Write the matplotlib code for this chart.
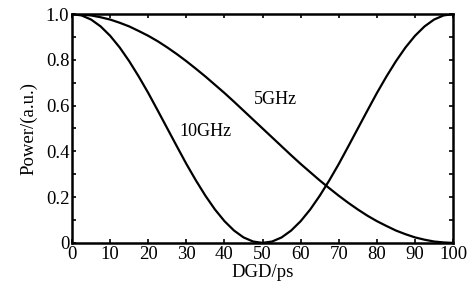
import numpy as np
import matplotlib
matplotlib.use('Agg')
import matplotlib.pyplot as plt
from matplotlib.ticker import MultipleLocator, FuncFormatter

plt.rcParams['font.family'] = ['Liberation Serif', 'DejaVu Serif']

# values, every 2.5 ps
dgd = [0, 2.5, 5, 7.5, 10, 12.5, 15, 17.5, 20, 22.5, 25, 27.5, 30, 32.5, 35, 37.5, 40, 42.5, 45, 47.5,
       50, 52.5, 55, 57.5, 60, 62.5, 65, 67.5, 70, 72.5, 75, 77.5, 80, 82.5, 85, 87.5, 90, 92.5, 95, 97.5, 100]
power_10ghz = [1.0, 0.994, 0.976, 0.946, 0.905, 0.854, 0.794, 0.727, 0.655, 0.578, 0.5,
               0.422, 0.345, 0.273, 0.206, 0.146, 0.095, 0.054, 0.024, 0.006, 0.0,
               0.006, 0.024, 0.054, 0.095, 0.146, 0.206, 0.273, 0.345, 0.422, 0.5,
               0.578, 0.655, 0.727, 0.794, 0.854, 0.905, 0.946, 0.976, 0.994, 1.0]
power_5ghz = [1.0, 0.998, 0.994, 0.986, 0.976, 0.962, 0.946, 0.926, 0.905, 0.881, 0.854,
              0.825, 0.794, 0.761, 0.727, 0.691, 0.655, 0.617, 0.578, 0.539, 0.5,
              0.461, 0.422, 0.383, 0.345, 0.309, 0.273, 0.239, 0.206, 0.175, 0.146,
              0.119, 0.095, 0.074, 0.054, 0.038, 0.024, 0.014, 0.006, 0.002, 0.0]
x_ticks = [0, 10, 20, 30, 40, 50, 60, 70, 80, 90, 100]

fig = plt.figure(figsize=(4.71, 2.93), dpi=100)
ax = fig.add_axes([0.153, 0.171, 0.809, 0.781])

ax.plot(dgd, power_10ghz, color='black', lw=1.6)
ax.plot(dgd, power_5ghz, color='black', lw=1.6)

ax.text(35.0, 0.485, '10GHz', fontsize=13, ha='center', va='center')
ax.text(53.5, 0.625, '5GHz', fontsize=13, ha='center', va='center')

ax.set_xlim(0, 100)
ax.set_ylim(0, 1.0)
ax.set_xticks(x_ticks)
ax.yaxis.set_major_locator(MultipleLocator(0.2))
ax.yaxis.set_minor_locator(MultipleLocator(0.1))
ax.yaxis.set_major_formatter(FuncFormatter(lambda v, p: '0' if abs(v) < 1e-9 else '%.1f' % v))

ax.tick_params(which='both', direction='in', top=True, right=True, length=3, width=1.2,
               labelsize=13.5, pad=2)
for s in ax.spines.values():
    s.set_linewidth(1.8)

ax.set_xlabel('DGD/ps', fontsize=13.5, labelpad=1)
ax.set_ylabel('Power/(a.u.)', fontsize=13.5, labelpad=6)

fig.savefig('out.png', dpi=100)
